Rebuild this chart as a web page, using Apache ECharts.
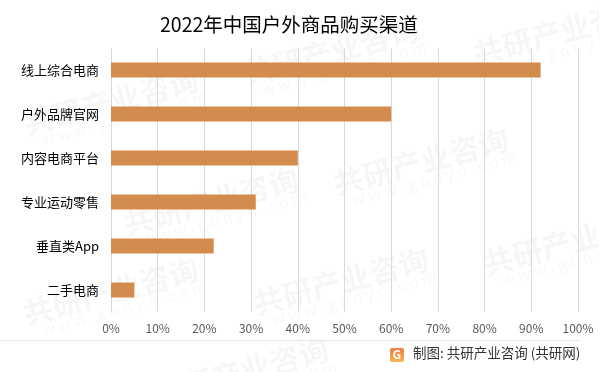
<!DOCTYPE html>
<html><head><meta charset="utf-8">
<script src="https://cdn.jsdelivr.net/npm/echarts@6/dist/echarts.min.js"></script>
<style>html,body{margin:0;padding:0;background:#fff}#c{width:599px;height:372px}</style>
</head><body><div id="c"></div>
<script>
const categories = ['线上综合电商','户外品牌官网','内容电商平台','专业运动零售','垂直类App','二手电商'];
const values = [92, 60, 40, 31, 22, 5];
const tickLabels = ['0%','10%','20%','30%','40%','50%','60%','70%','80%','90%','100%'];
const titleText = '2022年中国户外商品购买渠道';
const sourceText = '制图: 共研产业咨询 (共研网)';

const font = '"Noto Sans CJK SC","Microsoft YaHei",sans-serif';
const chart = echarts.init(document.getElementById('c'), null, {renderer:'canvas'});

const wm = [];
[[20,110],[240,60],[470,40],[120,210],[330,170],[20,300],[250,290],[480,250],[150,380]].forEach(p=>{
  wm.push({type:'text', x:p[0], y:p[1], rotation:0.26, z:-1, silent:true,
    style:{text:'共研产业咨询', font:'bold 30px '+font, fill:'rgba(0,0,0,0.035)'}});
  wm.push({type:'text', x:p[0]+20, y:p[1]+22, rotation:0.26, z:-1, silent:true,
    style:{text:'w w w . g o n y n . c o m', font:'16px '+font, fill:'rgba(0,0,0,0.03)'}});
});

chart.setOption({
  animation:false,
  title:{text:titleText, left:155, top:10,
    textStyle:{fontFamily:font, fontSize:19.5, fontWeight:'normal', color:'#000'}},
  grid:{left:111, right:21, top:48, bottom:60, containLabel:false},
  xAxis:{type:'value', min:0, max:100, interval:10,
    axisLine:{show:false}, axisTick:{show:false},
    splitLine:{lineStyle:{color:'#d9d9d9', width:1}},
    axisLabel:{formatter:(v)=>tickLabels[Math.round(v/10)], color:'#595959', fontSize:12, fontFamily:font, margin:10}},
  yAxis:{type:'category', data:categories, inverse:true,
    axisLine:{show:false}, axisTick:{show:false},
    axisLabel:{color:'#000', fontSize:13, fontFamily:font, margin:12}},
  series:[{type:'bar', data:values, barWidth:15, itemStyle:{color:'#D48C4E'}}],
  graphic:wm.concat([
    {type:'line', shape:{x1:0,y1:340.5,x2:580,y2:340.5}, style:{stroke:'#e6e6e6', lineWidth:1}},
    {type:'rect', shape:{x:390,y:348,width:14,height:14,r:2},
      style:{fill:new echarts.graphic.LinearGradient(0,0,0,1,[{offset:0,color:'#f07a4a'},{offset:1,color:'#f8b84a'}])}},
    {type:'text', x:392.5, y:348.5, style:{text:'G', font:'bold 12px '+font, fill:'#fff'}},
    {type:'text', x:413, y:346.5, style:{text:sourceText, font:'13.5px '+font, fill:'#333'}}
  ])
});
</script></body></html>
